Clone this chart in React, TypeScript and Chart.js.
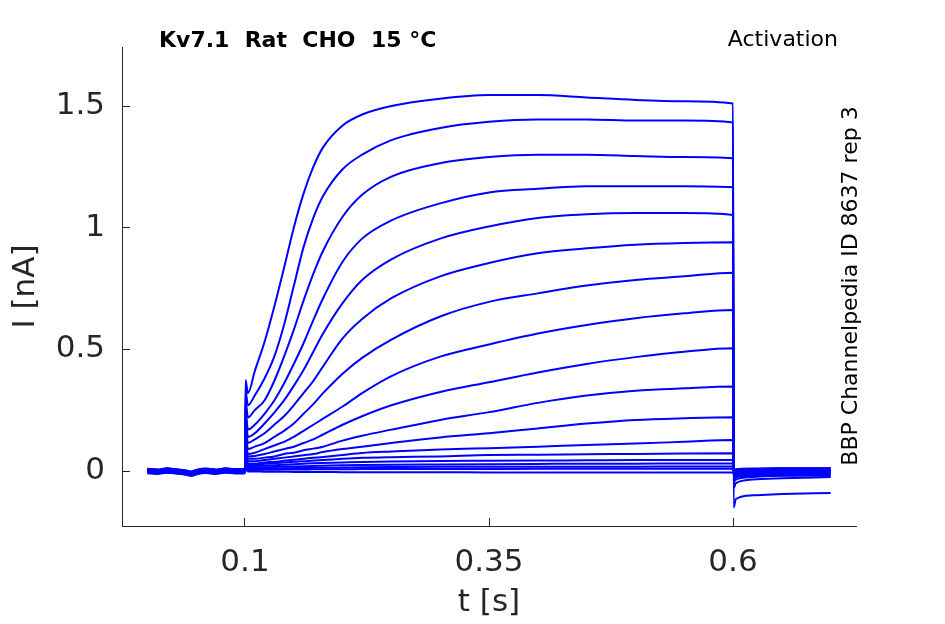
import {useEffect, useRef} from "react";
import {Chart, registerables} from "chart.js";

Chart.register(...registerables);

// baseline before the step (s), shared small wiggle
const preTimes = [0, 0.01, 0.02, 0.03, 0.04, 0.045, 0.05, 0.06, 0.07, 0.08, 0.09, 0.0995];
const preWiggle = [0.001, -0.002, 0.003, -0.001, -0.006, -0.01, -0.004, 0.002, -0.002, 0.003, 0.0, 0.0];
// holding level of each sweep (nA)
const holdLevel = [0.006, -0.004, 0.002, -0.008, 0.004, -0.002, 0.008, -0.006, 0.0, 0.005, -0.01, 0.003, -0.003, 0.007, -0.005, 0.001, -0.007, 0.0];

// step + tail sample times (s)
const sweepTimes = [
  0.1, 0.1006, 0.103, 0.11, 0.12, 0.13, 0.14, 0.15, 0.16, 0.17, 0.18, 0.2, 0.22, 0.25, 0.3, 0.35, 0.4, 0.45, 0.5,
  0.55, 0.6, 0.6006, 0.603, 0.62, 0.65, 0.7,
];

// current of each sweep at sweepTimes (nA)
const trace01 = [0, 0.374, 0.32, 0.41, 0.53, 0.675, 0.834, 1.0, 1.14, 1.25, 1.33, 1.42, 1.465, 1.5, 1.53, 1.545, 1.545, 1.535, 1.525, 1.52, 1.51, -0.15, -0.115, -0.1, -0.095, -0.09];
const trace02 = [0, 0.33, 0.27, 0.31, 0.38, 0.47, 0.6, 0.76, 0.92, 1.04, 1.13, 1.24, 1.3, 1.36, 1.41, 1.435, 1.445, 1.445, 1.44, 1.44, 1.432, -0.07, -0.05, -0.035, -0.03, -0.025];
const trace03 = [0, 0.29, 0.22, 0.25, 0.29, 0.37, 0.47, 0.58, 0.7, 0.81, 0.905, 1.045, 1.135, 1.21, 1.265, 1.29, 1.3, 1.3, 1.295, 1.29, 1.285, -0.045, -0.035, -0.025, -0.02, -0.02];
const trace04 = [0, 0.25, 0.17, 0.19, 0.235, 0.29, 0.36, 0.44, 0.525, 0.62, 0.71, 0.86, 0.955, 1.03, 1.1, 1.145, 1.16, 1.17, 1.17, 1.17, 1.166, -0.035, -0.025, -0.02, -0.018, -0.015];
const trace05 = [0, 0.22, 0.14, 0.155, 0.195, 0.24, 0.29, 0.35, 0.415, 0.49, 0.565, 0.69, 0.785, 0.87, 0.955, 1.005, 1.04, 1.055, 1.06, 1.06, 1.052, -0.03, -0.02, -0.015, -0.012, -0.01];
const trace06 = [0, 0.19, 0.115, 0.13, 0.155, 0.19, 0.225, 0.27, 0.32, 0.37, 0.43, 0.545, 0.625, 0.71, 0.8, 0.855, 0.895, 0.915, 0.93, 0.937, 0.94, -0.025, -0.015, -0.01, -0.01, -0.008];
const trace07 = [0, 0.16, 0.09, 0.1, 0.115, 0.14, 0.165, 0.195, 0.235, 0.275, 0.32, 0.4, 0.465, 0.54, 0.635, 0.695, 0.73, 0.762, 0.785, 0.8, 0.815, -0.02, -0.012, -0.008, -0.006, -0.005];
const trace08 = [0, 0.13, 0.07, 0.075, 0.09, 0.105, 0.12, 0.14, 0.165, 0.19, 0.215, 0.265, 0.32, 0.39, 0.47, 0.52, 0.565, 0.6, 0.628, 0.648, 0.662, -0.015, -0.01, -0.005, -0.004, -0.003];
const trace09 = [0, 0.11, 0.06, 0.062, 0.07, 0.08, 0.09, 0.1, 0.115, 0.13, 0.15, 0.19, 0.225, 0.27, 0.325, 0.365, 0.405, 0.44, 0.468, 0.49, 0.504, -0.012, -0.006, -0.002, 0.0, 0.0];
const trace10 = [0, 0.09, 0.05, 0.05, 0.055, 0.06, 0.07, 0.075, 0.085, 0.092, 0.1, 0.125, 0.145, 0.17, 0.21, 0.242, 0.28, 0.31, 0.33, 0.34, 0.347, -0.01, -0.004, 0.0, 0.002, 0.003];
const trace11 = [0, 0.08, 0.04, 0.04, 0.045, 0.05, 0.055, 0.06, 0.065, 0.07, 0.078, 0.09, 0.1, 0.115, 0.138, 0.155, 0.175, 0.195, 0.21, 0.217, 0.221, -0.008, -0.002, 0.002, 0.004, 0.005];
const trace12 = [0, 0.07, 0.03, 0.03, 0.035, 0.038, 0.042, 0.046, 0.05, 0.054, 0.058, 0.066, 0.074, 0.08, 0.088, 0.094, 0.1, 0.107, 0.113, 0.12, 0.127, -0.006, 0.0, 0.004, 0.006, 0.006];
const trace13 = [0, 0.06, 0.025, 0.026, 0.03, 0.032, 0.035, 0.038, 0.04, 0.043, 0.045, 0.05, 0.054, 0.057, 0.06, 0.066, 0.067, 0.069, 0.07, 0.072, 0.073, -0.004, 0.002, 0.006, 0.008, 0.008];
const trace14 = [0, 0.05, 0.02, 0.02, 0.022, 0.024, 0.026, 0.028, 0.03, 0.032, 0.033, 0.035, 0.037, 0.039, 0.041, 0.042, 0.043, 0.044, 0.045, 0.045, 0.045, -0.002, 0.004, 0.008, 0.01, 0.01];
const trace15 = [0, 0.04, 0.012, 0.013, 0.015, 0.016, 0.018, 0.019, 0.02, 0.021, 0.022, 0.024, 0.025, 0.026, 0.027, 0.028, 0.029, 0.03, 0.03, 0.031, 0.031, 0.0, 0.006, 0.01, 0.011, 0.012];
const trace16 = [0, 0.03, 0.008, 0.009, 0.01, 0.01, 0.011, 0.012, 0.012, 0.013, 0.013, 0.014, 0.015, 0.016, 0.017, 0.017, 0.018, 0.018, 0.018, 0.019, 0.019, 0.002, 0.006, 0.008, 0.009, 0.01];
const trace17 = [0, 0.02, 0.004, 0.004, 0.005, 0.005, 0.006, 0.006, 0.006, 0.007, 0.007, 0.007, 0.008, 0.008, 0.008, 0.008, 0.009, 0.009, 0.009, 0.009, 0.009, -0.005, 0.0, 0.003, 0.004, 0.005];
const trace18 = [0, 0.01, -0.002, -0.002, -0.003, -0.003, -0.003, -0.004, -0.004, -0.004, -0.004, -0.005, -0.005, -0.005, -0.005, -0.006, -0.006, -0.006, -0.006, -0.006, -0.006, -0.012, -0.008, -0.006, -0.005, -0.005];

const traces = [
  trace01, trace02, trace03, trace04, trace05, trace06, trace07, trace08, trace09,
  trace10, trace11, trace12, trace13, trace14, trace15, trace16, trace17, trace18,
];

const xTicks = [0.1, 0.35, 0.6];
const yTicks = [0, 0.5, 1, 1.5];

const axisColor = "#262626";
const fontFamily = "'DejaVu Sans', sans-serif";

// draws the title, protocol name and the vertical ID text
const annotations = {
  id: "annotations",
  afterDraw(chart: any) {
    const ctx = chart.ctx;
    ctx.save();
    ctx.fillStyle = "#000";
    ctx.textBaseline = "alphabetic";
    ctx.font = `bold 22px ${fontFamily}`;
    ctx.textAlign = "left";
    ctx.fillText("Kv7.1  Rat  CHO  15 °C", 159, 47);
    ctx.font = `22px ${fontFamily}`;
    ctx.textAlign = "right";
    ctx.fillText("Activation", 838, 46);
    ctx.translate(857, 286);
    ctx.rotate(-Math.PI / 2);
    ctx.textAlign = "center";
    ctx.fillText("BBP Channelpedia ID 8637 rep 3", 0, 0);
    ctx.restore();
  },
};

const App = () => {
  const canvasRef = useRef<HTMLCanvasElement | null>(null);

  useEffect(() => {
    document.body.style.margin = "0";
    const canvas = canvasRef.current;
    if (!canvas) return;

    const datasets = traces.map((vals, i) => ({
      data: [
        ...preTimes.map((t, j) => ({x: t, y: holdLevel[i] + preWiggle[j]})),
        ...sweepTimes.map((t, j) => ({x: t, y: vals[j]})),
      ],
      borderColor: "#0000ff",
      borderWidth: 2,
      pointRadius: 0,
      fill: false,
      cubicInterpolationMode: "monotone" as const,
    }));

    const chart = new Chart(canvas, {
      type: "line",
      data: {datasets},
      plugins: [annotations],
      options: {
        animation: false,
        responsive: true,
        maintainAspectRatio: false,
        events: [],
        layout: {padding: {top: 47, right: 89, left: 0, bottom: 0}},
        plugins: {
          legend: {display: false},
          tooltip: {enabled: false},
        },
        scales: {
          x: {
            type: "linear",
            min: -0.026,
            max: 0.726,
            afterBuildTicks: (s: any) => {
              s.ticks = xTicks.map((v) => ({value: v}));
            },
            afterFit: (s: any) => {
              s.height = 98;
            },
            ticks: {
              autoSkip: false,
              maxRotation: 0,
              padding: 26,
              color: axisColor,
              font: {family: fontFamily, size: 31},
              callback: (v: any) => String(v),
            },
            grid: {
              drawOnChartArea: false,
              drawTicks: true,
              tickLength: -8,
              color: axisColor,
            },
            border: {display: true, color: axisColor, width: 1},
            title: {
              display: true,
              text: "t [s]",
              color: axisColor,
              font: {family: fontFamily, size: 31},
              padding: {top: 0, bottom: 2},
            },
          },
          y: {
            type: "linear",
            min: -0.226,
            max: 1.7425,
            afterBuildTicks: (s: any) => {
              s.ticks = yTicks.map((v) => ({value: v}));
            },
            afterFit: (s: any) => {
              s.width = 122;
            },
            ticks: {
              autoSkip: false,
              padding: 25,
              color: axisColor,
              font: {family: fontFamily, size: 31},
              callback: (v: any) => String(v),
            },
            grid: {
              drawOnChartArea: false,
              drawTicks: true,
              tickLength: -8,
              color: axisColor,
            },
            border: {display: true, color: axisColor, width: 1},
            title: {
              display: true,
              text: "I [nA]",
              color: axisColor,
              font: {family: fontFamily, size: 31},
              padding: {top: 7, bottom: 0},
            },
          },
        },
      },
    });

    return () => {
      chart.destroy();
    };
  }, []);

  return (
    <div style={{position: "relative", width: 945, height: 624, background: "#fff"}}>
      <canvas ref={canvasRef}></canvas>
    </div>
  );
};

export default App;
